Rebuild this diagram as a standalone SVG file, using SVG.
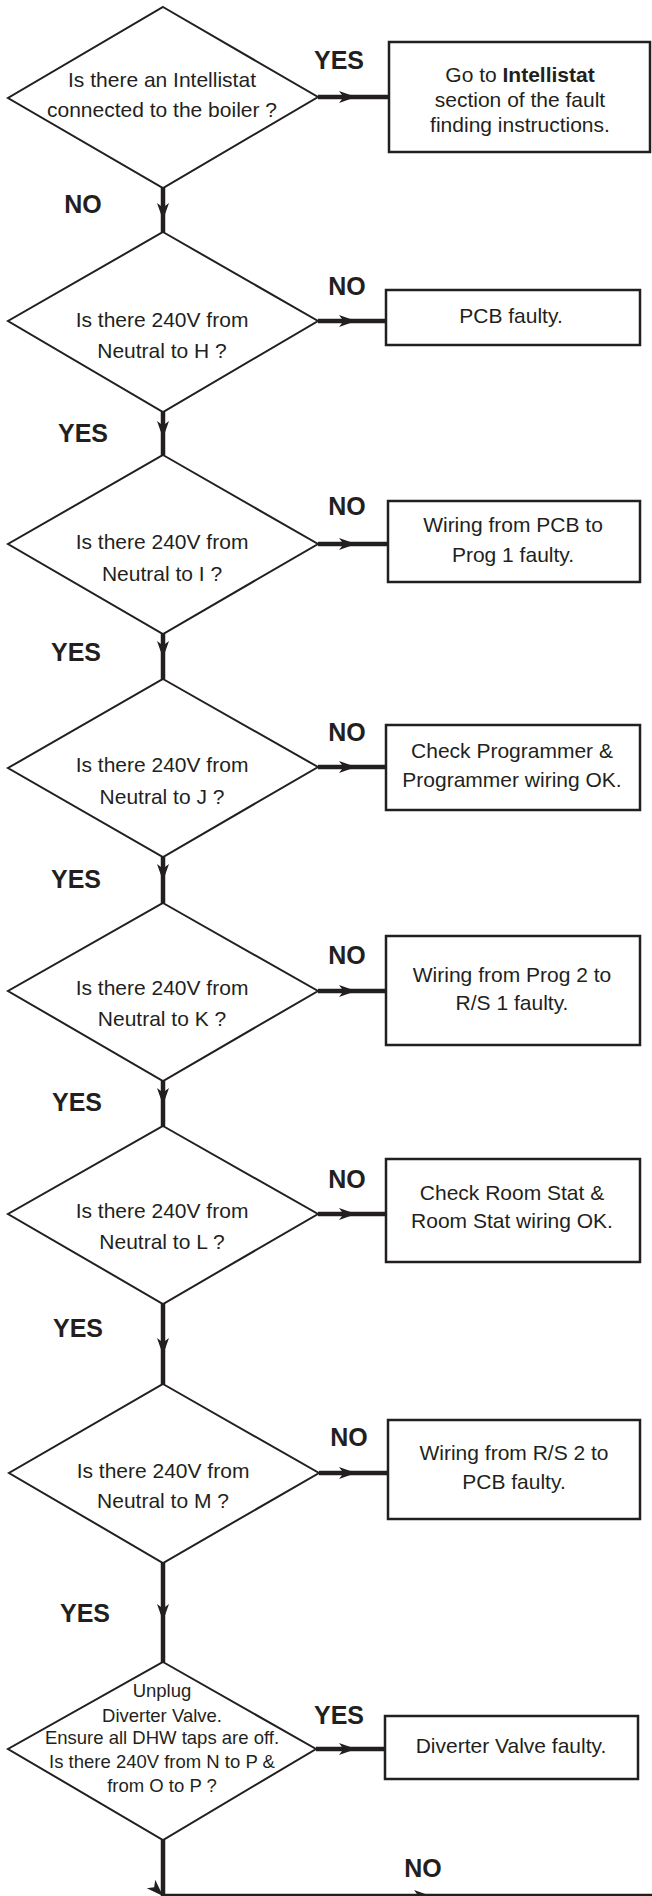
<svg xmlns="http://www.w3.org/2000/svg" width="652" height="1896" viewBox="0 0 652 1896">
<style>
.bg{fill:#fff}
.dia{fill:#fff;stroke:#231f20;stroke-width:2}
.box{fill:#fff;stroke:#231f20;stroke-width:2.5}
.con{fill:none;stroke:#231f20;stroke-width:4.5;marker-mid:url(#ah)}
.t{font-family:"Liberation Sans",Arial,sans-serif;font-size:21px;fill:#231f20;text-anchor:middle}
.s{font-family:"Liberation Sans",Arial,sans-serif;font-size:18.5px;fill:#231f20;text-anchor:middle}
.lb{font-family:"Liberation Sans",Arial,sans-serif;font-size:25px;font-weight:bold;fill:#231f20;text-anchor:middle}
</style>
<defs>
<marker id="ah" markerUnits="userSpaceOnUse" markerWidth="18" markerHeight="14" refX="17" refY="7" orient="auto">
<path d="M0,1 L17,7 L0,13 L4.5,7 z" fill="#231f20"/>
</marker>
</defs>
<rect class="bg" x="0" y="0" width="652" height="1896"/>

<g id="connectors">
<path class="con" d="M318,97 L356,97 L389,97"/>
<path class="con" d="M163,188 L163,220 L163,232"/>
<path class="con" d="M318,321 L356,321 L386,321"/>
<path class="con" d="M163,412 L163,438 L163,455"/>
<path class="con" d="M318,544 L356,544 L388,544"/>
<path class="con" d="M163,634 L163,658 L163,679"/>
<path class="con" d="M318,767 L356,767 L386,767"/>
<path class="con" d="M163,857 L163,881 L163,903"/>
<path class="con" d="M318,991 L356,991 L386,991"/>
<path class="con" d="M163,1081 L163,1105 L163,1126"/>
<path class="con" d="M318,1214 L356,1214 L386,1214"/>
<path class="con" d="M163,1304 L163,1355 L163,1384"/>
<path class="con" d="M319,1473 L356,1473 L388,1473"/>
<path class="con" d="M163,1563 L163,1621 L163,1662"/>
<path class="con" d="M316,1749 L356,1749 L385,1749"/>
<path class="con" d="M163,1840 L163,1896 L431,1896 L652,1896"/>
</g>

<g id="labels">
<text class="lb" x="339" y="69">YES</text>
<text class="lb" x="83" y="213">NO</text>
<text class="lb" x="347" y="295">NO</text>
<text class="lb" x="83" y="442">YES</text>
<text class="lb" x="347" y="515">NO</text>
<text class="lb" x="76" y="661">YES</text>
<text class="lb" x="347" y="741">NO</text>
<text class="lb" x="76" y="888">YES</text>
<text class="lb" x="347" y="964">NO</text>
<text class="lb" x="77" y="1111">YES</text>
<text class="lb" x="347" y="1188">NO</text>
<text class="lb" x="78" y="1337">YES</text>
<text class="lb" x="349" y="1446">NO</text>
<text class="lb" x="85" y="1622">YES</text>
<text class="lb" x="339" y="1724">YES</text>
<text class="lb" x="423" y="1877">NO</text>
</g>

<g id="d1">
<polygon class="dia" points="163,7 318,97 163,188 8,98"/>
<text class="t" x="162" y="87">Is there an Intellistat</text>
<text class="t" x="162" y="117">connected to the boiler ?</text>
</g>
<g id="b1">
<rect class="box" x="389" y="42" width="261" height="110"/>
<text class="t" x="520" y="82">Go to <tspan font-weight="bold">Intellistat</tspan></text>
<text class="t" x="520" y="107">section of the fault</text>
<text class="t" x="520" y="132">finding instructions.</text>
</g>

<g id="d2">
<polygon class="dia" points="163,232 318,321 163,412 8,321"/>
<text class="t" x="162" y="327">Is there 240V from</text>
<text class="t" x="162" y="358">Neutral to H ?</text>
</g>
<g id="b2">
<rect class="box" x="386" y="290" width="254" height="55"/>
<text class="t" x="511" y="323">PCB faulty.</text>
</g>

<g id="d3">
<polygon class="dia" points="163,455 318,544 163,634 8,544"/>
<text class="t" x="162" y="549">Is there 240V from</text>
<text class="t" x="162" y="581">Neutral to I ?</text>
</g>
<g id="b3">
<rect class="box" x="388" y="501" width="252" height="81"/>
<text class="t" x="513" y="532">Wiring from PCB to</text>
<text class="t" x="513" y="562">Prog 1 faulty.</text>
</g>

<g id="d4">
<polygon class="dia" points="163,679 318,767 163,857 8,768"/>
<text class="t" x="162" y="772">Is there 240V from</text>
<text class="t" x="162" y="804">Neutral to J ?</text>
</g>
<g id="b4">
<rect class="box" x="386" y="725" width="254" height="85"/>
<text class="t" x="512" y="758">Check Programmer &amp;</text>
<text class="t" x="512" y="787">Programmer wiring OK.</text>
</g>

<g id="d5">
<polygon class="dia" points="163,903 318,991 163,1081 8,991"/>
<text class="t" x="162" y="995">Is there 240V from</text>
<text class="t" x="162" y="1026">Neutral to K ?</text>
</g>
<g id="b5">
<rect class="box" x="386" y="936" width="254" height="109"/>
<text class="t" x="512" y="982">Wiring from Prog 2 to</text>
<text class="t" x="512" y="1010">R/S 1 faulty.</text>
</g>

<g id="d6">
<polygon class="dia" points="163,1126 318,1214 163,1304 8,1214"/>
<text class="t" x="162" y="1218">Is there 240V from</text>
<text class="t" x="162" y="1249">Neutral to L ?</text>
</g>
<g id="b6">
<rect class="box" x="386" y="1159" width="254" height="103"/>
<text class="t" x="512" y="1200">Check Room Stat &amp;</text>
<text class="t" x="512" y="1228">Room Stat wiring OK.</text>
</g>

<g id="d7">
<polygon class="dia" points="163,1384 319,1473 163,1563 9,1473"/>
<text class="t" x="163" y="1478">Is there 240V from</text>
<text class="t" x="163" y="1508">Neutral to M ?</text>
</g>
<g id="b7">
<rect class="box" x="388" y="1420" width="252" height="99"/>
<text class="t" x="514" y="1460">Wiring from R/S 2 to</text>
<text class="t" x="514" y="1489">PCB faulty.</text>
</g>

<g id="d8">
<polygon class="dia" points="163,1662 316,1749 163,1840 8,1749"/>
<text class="s" x="162" y="1697">Unplug</text>
<text class="s" x="162" y="1722">Diverter Valve.</text>
<text class="s" x="162" y="1744">Ensure all DHW taps are off.</text>
<text class="s" x="162" y="1768">Is there 240V from N to P &amp;</text>
<text class="s" x="162" y="1792">from O to P ?</text>
</g>
<g id="b8">
<rect class="box" x="385" y="1716" width="253" height="63"/>
<text class="t" x="511" y="1753">Diverter Valve faulty.</text>
</g>
</svg>
